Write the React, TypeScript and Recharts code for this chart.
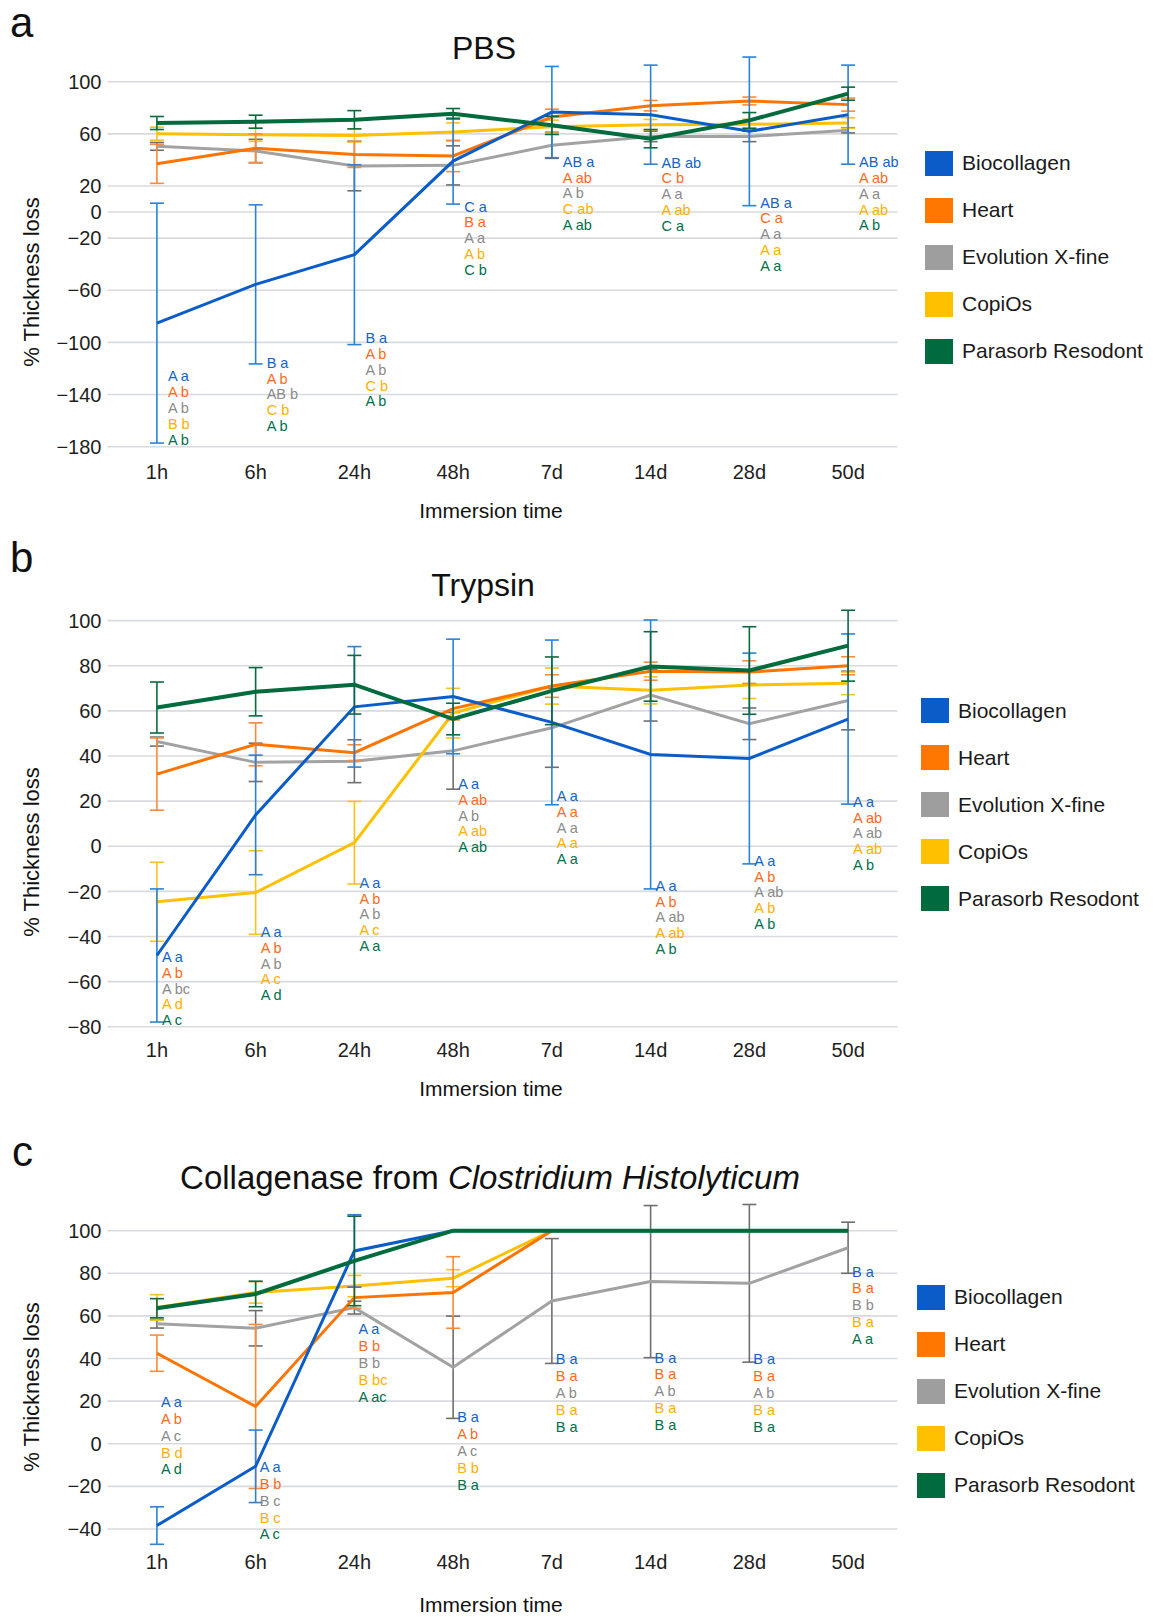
import React from "react";
import {
  CartesianGrid,
  ErrorBar,
  Legend,
  Line,
  LineChart,
  ReferenceDot,
  XAxis,
  YAxis,
} from "recharts";

const TIMES = ["1h", "6h", "24h", "48h", "7d", "14d", "28d", "50d"];
const NAMES = ["Biocollagen", "Heart", "Evolution X-fine", "CopiOs", "Parasorb Resodont"];
const KEYS = ["bio", "heart", "evo", "copi", "para"];

// a — PBS
const PBS_TICKS = [-180, -140, -100, -60, -20, 0, 20, 60, 100];
const PBS_BIO = [-85.2, -55.5, -32.7, 39.1, 76.7, 74.7, 61.9, 74.7];
const PBS_BIO_ERR = [92, 61, 69, 33, 35, 38, 57, 38];
const PBS_HEART = [37, 49, 44.2, 43, 72.9, 81.6, 85.2, 82.4];
const PBS_HEART_ERR = [15, 11, 10, 12, 6, 4, 3, 5];
const PBS_EVO = [50.4, 46.8, 35.3, 35.8, 51.2, 58, 58, 62.7];
const PBS_EVO_ERR = [3, 9, 19, 15, 10, 4, 4, 2];
const PBS_COPI = [60.1, 59.3, 58.8, 61.4, 65.5, 67, 67.3, 68.3];
const PBS_COPI_ERR = [5, 5, 5, 7, 5, 4, 4, 4];
const PBS_PARA = [68.3, 69.3, 70.8, 75.4, 66.5, 56.3, 70.3, 90.8];
const PBS_PARA_ERR = [5, 5, 7, 4, 7, 7, 6, 5];
const PBS_NOTE_AT = [-126, -115.6, -96.8, 4.1, 38.6, 37.9, 7.2, 38.2];
const PBS_NOTES = [
  ["A a", "A b", "A b", "B b", "A b"],
  ["B a", "A b", "AB b", "C b", "A b"],
  ["B a", "A b", "A b", "C b", "A b"],
  ["C a", "B a", "A a", "A b", "C b"],
  ["AB a", "A ab", "A b", "C ab", "A ab"],
  ["AB ab", "C b", "A a", "A ab", "C a"],
  ["AB a", "C a", "A a", "A a", "A a"],
  ["AB ab", "A ab", "A a", "A ab", "A b"],
];

// b — Trypsin
const TRY_TICKS = [-80, -60, -40, -20, 0, 20, 40, 60, 80, 100];
const TRY_BIO = [-48.4, 13.9, 61.8, 66.4, 54.9, 40.7, 38.9, 56.4];
const TRY_BIO_ERR = [29.5, 26.5, 26.7, 25.4, 36.5, 59.6, 46.7, 37.7];
const TRY_HEART = [32, 45.2, 41.5, 61, 71, 77.6, 77.2, 80];
const TRY_HEART_ERR = [16, 9.5, 3.5, 5, 5, 4, 5, 4];
const TRY_EVO = [46.4, 37.2, 37.7, 42.3, 52.5, 67, 54.3, 64.6];
const TRY_EVO_ERR = [2, 8.5, 9.5, 17, 17.5, 11.5, 7, 13];
const TRY_COPI = [-24.6, -20.5, 1.6, 59, 71, 69.1, 71.5, 72.2];
const TRY_COPI_ERR = [17.5, 18.5, 18.3, 11, 8, 6, 6, 5];
const TRY_PARA = [61.5, 68.5, 71.6, 56.4, 68.9, 79.7, 77.9, 88.9];
const TRY_PARA_ERR = [11.3, 10.7, 13, 7, 15, 15.4, 19.4, 15.7];
const TRY_NOTE_AT = [-49.2, -38.2, -16.4, 27.4, 22.1, -17.7, -6.6, 19.5];
const TRY_NOTES = [
  ["A a", "A b", "A bc", "A d", "A c"],
  ["A a", "A b", "A b", "A c", "A d"],
  ["A a", "A b", "A b", "A c", "A a"],
  ["A a", "A ab", "A b", "A ab", "A ab"],
  ["A a", "A a", "A a", "A a", "A a"],
  ["A a", "A b", "A ab", "A ab", "A b"],
  ["A a", "A b", "A ab", "A b", "A b"],
  ["A a", "A ab", "A ab", "A ab", "A b"],
];

// c — Collagenase
const COL_TICKS = [-40, -20, 0, 20, 40, 60, 80, 100];
const COL_BIO = [-38.4, -10.6, 90.5, 100, 100, 100, 100, 100];
const COL_BIO_ERR = [8.8, 17, 17, null, null, null, null, null];
const COL_HEART = [42.5, 17.5, 68.6, 71, 100, 100, 100, 100];
const COL_HEART_ERR = [8.5, 38.5, 5, 16.8, null, null, null, null];
const COL_EVO = [56.3, 54.2, 63.9, 35.9, 67, 76.1, 75.3, 92];
const COL_EVO_ERR = [2, 8.3, 3, 24, 29.3, 35.7, 37, 12];
const COL_COPI = [64, 71, 74, 77.7, 100, 100, 100, 100];
const COL_COPI_ERR = [6, 5, 5, 4, null, null, null, null];
const COL_PARA = [63.6, 70.3, 85.8, 100, 100, 100, 100, 100];
const COL_PARA_ERR = [4.5, 6, 21, null, null, null, null, null];
const COL_NOTE_AT = [19.5, -11, 53.7, 12.4, 39.6, 40.4, 39.6, 80.8];
const COL_NOTES = [
  ["A a", "A b", "A c", "B d", "A d"],
  ["A a", "B b", "B c", "B c", "A c"],
  ["A a", "B b", "B b", "B bc", "A ac"],
  ["B a", "A b", "A c", "B b", "B a"],
  ["B a", "B a", "A b", "B a", "B a"],
  ["B a", "B a", "A b", "B a", "B a"],
  ["B a", "B a", "A b", "B a", "B a"],
  ["B a", "B a", "B b", "B a", "A a"],
];

const FONT = "'Liberation Sans', Arial, Helvetica, sans-serif";

const STYLE: Record<string, { line: string; bar: string; note: string; width: number }> = {
  bio: { line: "#0a5cc8", bar: "#2b82d6", note: "#1463c6", width: 3 },
  heart: { line: "#ff7300", bar: "#ff8a3a", note: "#ff6a1a", width: 3 },
  evo: { line: "#a2a2a2", bar: "#6f6f6f", note: "#8a8a8a", width: 3 },
  copi: { line: "#ffc000", bar: "#ffc21a", note: "#ffb000", width: 3 },
  para: { line: "#006b3c", bar: "#0a6a3e", note: "#00704a", width: 4 },
};
const LEGEND_FILL = ["#0a5cc8", "#ff7700", "#9e9e9e", "#ffc000", "#006b3c"];
const DRAW_ORDER = ["evo", "copi", "heart", "bio", "para"];

type Vals = (number | null)[];

function buildRows(vals: Vals[], errs: Vals[]) {
  return TIMES.map((t, i) => {
    const row: Record<string, string | number | null> = { t };
    KEYS.forEach((k, j) => {
      row[k] = vals[j][i];
      row[k + "Err"] = errs[j][i];
    });
    return row;
  });
}

const minus = (v: number) => (v < 0 ? `\u2212${Math.abs(v)}` : `${v}`);

function NoteBlock({ cx, cy, lines, step, dx }: { cx: number; cy: number; lines: string[]; step: number; dx: number }) {
  return (
    <g>
      {lines.map((s, i) => (
        <text
          key={i}
          x={cx + dx}
          y={cy + i * step}
          dominantBaseline="central"
          fontFamily={FONT}
          fontSize={14.5}
          fill={STYLE[KEYS[i]].note}
        >
          {s}
        </text>
      ))}
    </g>
  );
}

function LegendBox() {
  return (
    <div style={{ fontFamily: FONT }}>
      {NAMES.map((n, i) => (
        <div key={n} style={{ display: "flex", alignItems: "center", height: 47 }}>
          <div style={{ width: 28, height: 25, background: LEGEND_FILL[i], marginRight: 9 }} />
          <span style={{ fontSize: 21, color: "#1a1a1a", whiteSpace: "nowrap" }}>{n}</span>
        </div>
      ))}
    </div>
  );
}

type PanelProps = {
  top: number;
  height: number;
  marginTop: number;
  marginBottom: number;
  domain: [number, number];
  ticks: number[];
  rows: Record<string, string | number | null>[];
  noteAt: number[];
  notes: string[][];
  noteStep: number;
  noteDx: number;
  tickMargin: number;
  legendLeft: number;
  legendTop: number;
};

function Panel(p: PanelProps) {
  return (
    <div style={{ position: "absolute", left: 0, top: p.top }}>
      <LineChart
        width={1153}
        height={p.height}
        data={p.rows}
        margin={{ top: p.marginTop, right: 255.5, bottom: p.marginBottom, left: 47.5 }}
      >
        <CartesianGrid vertical={false} syncWithTicks stroke="#d8dadd" strokeWidth={1.6} />
        <XAxis
          dataKey="t"
          type="category"
          height={30}
          axisLine={false}
          tickLine={false}
          tickSize={0}
          tickMargin={p.tickMargin}
          padding={{ left: 49.4, right: 49.4 }}
          tick={{ fontSize: 20, fill: "#1e1e1e", fontFamily: FONT }}
          interval={0}
        />
        <YAxis
          type="number"
          width={60}
          domain={p.domain}
          ticks={p.ticks}
          allowDataOverflow
          interval={0}
          axisLine={false}
          tickLine={false}
          tickSize={0}
          tickMargin={6}
          tickFormatter={minus}
          tick={{ fontSize: 20, fill: "#1e1e1e", fontFamily: FONT }}
        />
        {DRAW_ORDER.map((k) => (
          <Line
            key={k}
            dataKey={k}
            type="linear"
            stroke={STYLE[k].line}
            strokeWidth={STYLE[k].width}
            dot={false}
            activeDot={false}
            isAnimationActive={false}
          >
            <ErrorBar
              dataKey={k + "Err"}
              direction="y"
              width={7}
              stroke={STYLE[k].bar}
              strokeWidth={1.6}
              isAnimationActive={false}
            />
          </Line>
        ))}
        {p.noteAt.map((v, i) => (
          <ReferenceDot
            key={i}
            x={TIMES[i]}
            y={v}
            r={0}
            ifOverflow="visible"
            shape={(sp: any) => (
              <NoteBlock cx={sp.cx} cy={sp.cy} lines={p.notes[i]} step={p.noteStep} dx={p.noteDx} />
            )}
          />
        ))}
        <Legend
          layout="vertical"
          align="center"
          verticalAlign="middle"
          content={() => <LegendBox />}
          wrapperStyle={{ left: p.legendLeft, top: p.legendTop, width: 230 }}
        />
      </LineChart>
    </div>
  );
}

export default function App() {
  const pbs = buildRows(
    [PBS_BIO, PBS_HEART, PBS_EVO, PBS_COPI, PBS_PARA],
    [PBS_BIO_ERR, PBS_HEART_ERR, PBS_EVO_ERR, PBS_COPI_ERR, PBS_PARA_ERR]
  );
  const tryp = buildRows(
    [TRY_BIO, TRY_HEART, TRY_EVO, TRY_COPI, TRY_PARA],
    [TRY_BIO_ERR, TRY_HEART_ERR, TRY_EVO_ERR, TRY_COPI_ERR, TRY_PARA_ERR]
  );
  const col = buildRows(
    [COL_BIO, COL_HEART, COL_EVO, COL_COPI, COL_PARA],
    [COL_BIO_ERR, COL_HEART_ERR, COL_EVO_ERR, COL_COPI_ERR, COL_PARA_ERR]
  );

  const txt = { fontFamily: FONT, fill: "#111" };

  return (
    <div style={{ position: "absolute", left: 0, top: 0, width: 1153, height: 1617, background: "#fff", overflow: "hidden" }}>
      <Panel
        top={0}
        height={520}
        marginTop={53}
        marginBottom={43.3}
        domain={[-180, 122]}
        ticks={PBS_TICKS}
        rows={pbs}
        noteAt={PBS_NOTE_AT}
        notes={PBS_NOTES}
        noteStep={15.8}
        noteDx={11}
        tickMargin={18}
        legendLeft={925}
        legendTop={139.5}
      />
      <Panel
        top={520}
        height={560}
        marginTop={87.1}
        marginBottom={23.2}
        domain={[-80, 106]}
        ticks={TRY_TICKS}
        rows={tryp}
        noteAt={TRY_NOTE_AT}
        notes={TRY_NOTES}
        noteStep={15.6}
        noteDx={5}
        tickMargin={16}
        legendLeft={921}
        legendTop={167}
      />
      <Panel
        top={1080}
        height={537}
        marginTop={123}
        marginBottom={41}
        domain={[-48, 113]}
        ticks={COL_TICKS}
        rows={col}
        noteAt={COL_NOTE_AT}
        notes={COL_NOTES}
        noteStep={16.8}
        noteDx={4}
        tickMargin={9}
        legendLeft={917}
        legendTop={193.5}
      />
      <svg
        width={1153}
        height={1617}
        style={{ position: "absolute", left: 0, top: 0, pointerEvents: "none" }}
      >
        <text x={10} y={37} fontSize={42} {...txt}>a</text>
        <text x={10} y={572} fontSize={42} {...txt}>b</text>
        <text x={12} y={1166} fontSize={42} {...txt}>c</text>

        <text x={484} y={59} fontSize={32} textAnchor="middle" {...txt}>PBS</text>
        <text x={483} y={596} fontSize={32} textAnchor="middle" {...txt}>Trypsin</text>
        <text x={490} y={1189} fontSize={33} textAnchor="middle" {...txt}>
          Collagenase from <tspan fontStyle="italic">Clostridium Histolyticum</tspan>
        </text>

        {[282, 852, 1387].map((cy) => (
          <text
            key={cy}
            x={38.5}
            y={cy}
            fontSize={22}
            textAnchor="middle"
            transform={`rotate(-90 38.5 ${cy})`}
            {...txt}
          >
            % Thickness loss
          </text>
        ))}
        {[517.5, 1095.5, 1612].map((y) => (
          <text key={y} x={491} y={y} fontSize={21} textAnchor="middle" {...txt}>
            Immersion time
          </text>
        ))}
      </svg>
    </div>
  );
}
